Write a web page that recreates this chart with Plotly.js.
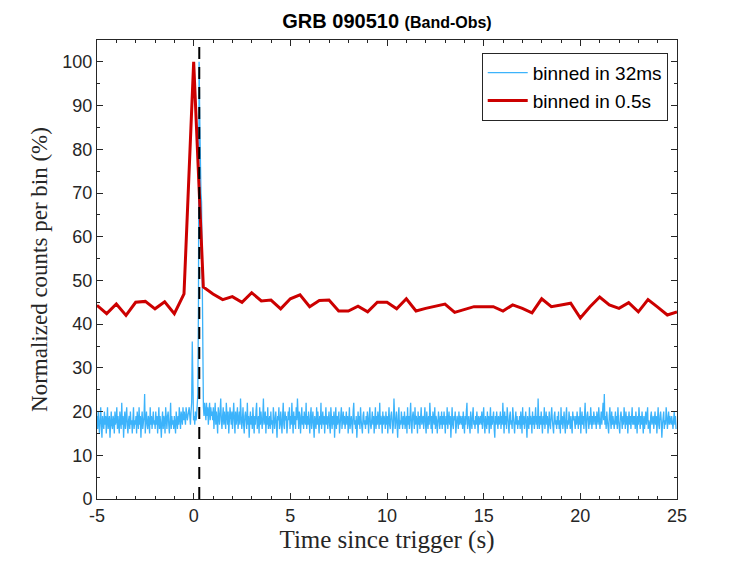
<!DOCTYPE html>
<html>
<head>
<meta charset="utf-8">
<script src="https://cdn.plot.ly/plotly-3.0.1.min.js"></script>
<style>html,body{margin:0;padding:0;background:#fff;}#chart{width:747px;height:561px;}</style>
</head>
<body>
<div id="chart"></div>
<script>
// 0.5 s bins
var redTimes = [-5,-4.5,-4,-3.5,-3,-2.5,-2,-1.5,-1,-0.5,0,0.5,1,1.5,2,2.5,3,3.5,4,4.5,5,5.5,6,6.5,7,7.5,8,8.5,9,9.5,10,10.5,11,11.5,12,12.5,13,13.5,14,14.5,15,15.5,16,16.5,17,17.5,18,18.5,19,19.5,20,20.5,21,21.5,22,22.5,23,23.5,24,24.5,25];
var redCounts = [44.3,42.4,44.6,42.0,45.0,45.2,43.5,45.1,42.4,46.9,100,48.5,46.9,45.6,46.3,45.0,47.2,45.3,45.5,43.5,45.8,46.7,44.0,45.4,45.5,43.0,43.0,44.1,42.8,45.0,45.0,43.5,45.8,43.0,43.6,44.1,44.6,42.7,43.3,44.0,44.0,44.0,43.0,44.4,43.6,42.6,45.8,44.0,44.4,44.8,41.4,44.0,46.2,44.4,43.6,44.9,42.8,45.6,43.9,42.1,42.8];

// 32 ms bins, starting at -5 s
var blueStart = -5;
var blueStep = 0.032;
var blueCounts = [
19,16,20,17,15,18,21,17,14,19,18,16,20,17,19,15,18,21,16,17,19,14,18,20,17,16,19,18,15,20,17,
18,21,16,19,17,15,20,18,16,22,17,19,14,18,20,16,19,21,17,15,18,19,16,20,17,18,15,19,21,16,18,
17,19,15,20,18,16,21,17,19,14,18,20,16,17,19,24,15,18,20,17,16,19,18,15,21,17,19,16,18,20,17,
18,16,20,17,19,15,18,21,16,19,17,14,18,20,16,19,18,15,21,17,16,19,20,17,15,18,22,16,19,17,18,
16,19,17,15,20,18,16,19,17,21,18,16,20,19,17,21,18,20,19,17,21,20,18,19,20,21,19,17,20,22,36,
21,18,19,17,20,18,19,21,24,45,100,88,74,70,68,42,23,21,19,22,20,18,22,19,21,17,20,22,18,21,19,
20,18,21,16,19,22,17,20,18,15,21,19,17,20,23,18,16,19,21,17,20,18,16,22,19,17,20,15,18,21,19,
17,20,16,19,22,18,15,20,17,19,21,16,18,20,17,23,19,16,18,21,17,15,19,20,18,16,22,17,19,14,18,
20,17,19,16,21,18,15,19,17,20,22,16,18,19,15,21,17,20,18,16,19,23,17,18,20,15,19,17,21,16,18,
19,16,20,17,18,15,21,19,16,18,20,17,14,19,18,21,16,17,20,18,15,19,22,17,16,20,18,19,15,17,20,
18,21,16,19,17,22,18,15,20,17,19,16,21,18,23,17,16,20,19,15,18,21,17,19,16,20,18,17,22,16,19,
17,20,18,15,19,21,16,18,20,17,14,19,18,16,21,17,20,18,15,19,17,22,16,18,20,17,19,15,18,21,17,
19,16,18,20,17,15,21,18,16,19,17,20,14,18,21,16,19,17,18,20,15,17,19,21,16,18,20,17,19,16,18,
20,17,19,15,18,21,16,18,19,17,15,20,22,17,18,16,19,14,18,20,17,19,16,21,18,17,15,19,20,17,18,
16,19,17,20,18,15,19,21,17,16,18,20,17,19,15,18,21,16,19,17,20,18,16,22,17,19,18,15,20,17,19,
18,16,20,17,19,15,18,21,17,16,19,20,18,15,17,23,19,16,18,20,17,14,19,21,16,18,17,20,18,16,19,
17,20,16,18,19,15,21,17,19,16,18,22,17,15,19,20,18,16,21,17,19,18,15,20,17,19,16,18,21,17,18,
19,16,18,21,17,15,20,18,16,19,17,22,18,16,19,15,20,18,17,21,16,19,18,15,17,20,18,16,19,17,20,
16,19,17,20,18,15,19,17,21,16,18,20,17,19,14,18,21,17,16,19,18,20,15,17,19,18,16,20,17,19,18,
17,19,16,20,18,15,19,17,20,22,16,18,19,17,15,20,18,16,19,21,17,18,16,19,17,20,18,15,19,17,18,
19,17,20,16,18,21,17,15,19,18,16,20,17,19,15,18,21,16,19,17,18,20,16,14,19,17,20,18,16,19,17,
18,20,16,19,17,22,18,15,20,17,19,16,21,18,17,15,19,20,17,18,16,21,19,17,15,18,20,17,19,16,18,
17,19,16,20,18,15,21,17,19,16,18,20,17,14,19,18,16,21,17,19,18,15,20,17,19,16,18,21,17,19,16,
23,18,16,19,17,20,18,15,19,17,21,16,18,20,17,19,15,18,20,17,16,19,21,18,17,15,19,20,17,18,16,
19,17,20,16,18,15,21,17,19,16,18,20,17,15,19,21,16,18,17,20,18,16,19,17,15,20,18,19,17,16,19,
17,20,18,16,19,17,21,15,18,20,17,19,16,18,22,17,15,19,20,18,16,19,17,21,18,16,19,17,20,18,17,
19,16,20,18,17,21,19,16,18,20,17,19,22,18,24,17,19,16,20,18,17,15,19,21,18,16,20,17,19,18,16,
18,20,17,19,16,21,18,17,15,19,20,18,16,19,17,21,18,16,20,17,19,15,18,20,17,19,16,18,21,17,19,
17,19,16,20,18,15,19,17,21,18,16,19,17,20,18,15,19,16,18,20,17,19,21,16,18,17,15,19,20,17,18,
19,16,18,20,17,19,15,18,21,17,16,19,20,18,14,17,19,20,16,18,17,21,19,16,18,20,17,19,18,17,19,18,
16,18,20,17,19,16
];
var blueTimes = blueCounts.map(function(v,i){ return blueStart + blueStep*i; });

var triggerMark = 0.29;
var xRange = [-5,25];
var yRange = [0,105];
var yTickVals = [0,10,20,30,40,50,60,70,80,90,100];
var xTickVals = [-5,0,5,10,15,20,25];

var traces = [
  {x: blueTimes, y: blueCounts, type:'scatter', mode:'lines', name:'binned in 32ms',
   line:{color:'#3cb3fb', width:1.3}},
  {x: redTimes, y: redCounts, type:'scatter', mode:'lines', name:'binned in 0.5s',
   line:{color:'#cc0000', width:3}}
];

var axisCommon = {
  showline:true, linecolor:'#262626', linewidth:1, mirror:'allticks',
  ticks:'inside', ticklen:6, tickwidth:1, tickcolor:'#262626',
  showgrid:false, zeroline:false,
  tickfont:{family:'Liberation Sans, Arial, sans-serif', size:18, color:'#262626'}
};

var layout = {
  width:747, height:561,
  margin:{l:97, r:70, t:40, b:62},
  paper_bgcolor:'#fff', plot_bgcolor:'#fff',
  title:{text:'<b>GRB 090510 <span style="font-size:16px">(Band-Obs)</span></b>',
         font:{family:'Liberation Sans, Arial, sans-serif', size:20, color:'#000'},
         x:0.5, xref:'paper', y:0.963, yanchor:'middle'},
  xaxis: Object.assign({}, axisCommon, {
    range:xRange, tickvals:xTickVals, ticktext:xTickVals.map(String),
    minor:{dtick:1, ticks:'inside', ticklen:3, tickcolor:'#262626'},
    title:{text:'Time since trigger (s)', standoff:2,
           font:{family:'Liberation Serif, Times New Roman, serif', size:25, color:'#262626'}}
  }),
  yaxis: Object.assign({}, axisCommon, {
    range:yRange, tickvals:yTickVals, ticktext:yTickVals.map(String),
    minor:{dtick:5, ticks:'inside', ticklen:3, tickcolor:'#262626'},
    title:{text:'Normalized counts per bin (%)', standoff:8,
           font:{family:'Liberation Serif, Times New Roman, serif', size:23, color:'#262626'}}
  }),
  showlegend:true,
  legend:{x:0.984, y:0.972, xanchor:'right', yanchor:'top',
          bgcolor:'#fff', bordercolor:'#262626', borderwidth:1,
          font:{family:'Liberation Sans, Arial, sans-serif', size:19, color:'#000'},
          tracegroupgap:0, itemwidth:40},
  shapes:[{type:'line', xref:'x', yref:'paper', x0:triggerMark, x1:triggerMark, y0:0, y1:1,
           line:{color:'#000', width:2, dash:'12px,8px'}}]
};

Plotly.newPlot('chart', traces, layout, {displayModeBar:false, staticPlot:true});
</script>
</body>
</html>
